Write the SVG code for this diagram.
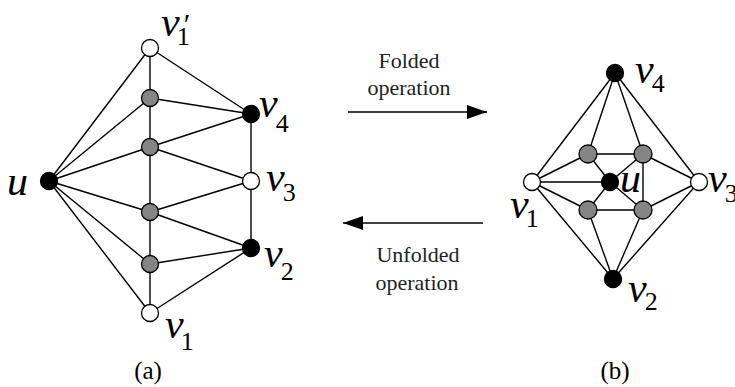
<svg xmlns="http://www.w3.org/2000/svg" width="735" height="387" viewBox="0 0 735 387">
<style>
.e{stroke:#000;stroke-width:1.4;fill:none}
.n{stroke:#000;stroke-width:1.3}
.w{fill:#fff}.b{fill:#000}.g{fill:#858585}
.lb{font-family:"Liberation Serif",serif;font-style:italic;font-size:42px;fill:#000}
.sb{font-style:normal;font-size:26px}
.t{font-family:"Liberation Serif",serif;font-size:22px;fill:#222;text-anchor:middle}
.cap{font-family:"Liberation Serif",serif;font-size:25px;fill:#000;text-anchor:middle}
</style>
<defs>
<marker id="ah" viewBox="0 0 20 14" refX="20" refY="7" markerWidth="20" markerHeight="14" markerUnits="userSpaceOnUse" orient="auto">
<path d="M0,0 L20,7 L0,14 Z" fill="#000"/>
</marker>
</defs>
<g id="connectors">
<path class="e" d="M150,48 V313"/>
<path class="e" d="M49,181 L150,48 M49,181 L150,98 M49,181 L150,147 M49,181 L150,212 M49,181 L150,264 M49,181 L150,313"/>
<path class="e" d="M150,48 L251,114 M150,98 L251,114 M150,147 L251,114 M150,147 L251,181 M150,212 L251,181 M150,212 L251,248 M150,264 L251,248 M150,313 L251,248"/>
<path class="e" d="M251,114 V248"/>
<path class="e" d="M615,73 L532,182 M615,73 L699,182 M615,73 L588,154 M615,73 L643,154"/>
<path class="e" d="M613,279 L532,182 M613,279 L699,182 M613,279 L588,210 M613,279 L643,210"/>
<path class="e" d="M532,182 L588,154 M532,182 L610,182 M532,182 L588,210 M699,182 L643,154 M699,182 L643,210"/>
<path class="e" d="M588,154 L643,154 M588,210 L643,210 M643,154 L643,210"/>
<path class="e" d="M610,182 L588,154 M610,182 L643,154 M610,182 L588,210 M610,182 L643,210"/>
<path class="e" d="M348,112 L487,112" stroke-width="2" marker-end="url(#ah)"/>
<path class="e" d="M483,223 L343,223" stroke-width="2" marker-end="url(#ah)"/>
</g>
<g id="a-v1p"><circle class="n w" cx="150" cy="48" r="8.5"/></g>
<g id="a-g1"><circle class="n g" cx="150" cy="98" r="8.5"/></g>
<g id="a-g2"><circle class="n g" cx="150" cy="147" r="8.5"/></g>
<g id="a-g3"><circle class="n g" cx="150" cy="212" r="8.5"/></g>
<g id="a-g4"><circle class="n g" cx="150" cy="264" r="8.5"/></g>
<g id="a-v1"><circle class="n w" cx="150" cy="313" r="8.5"/></g>
<g id="a-u"><circle class="n b" cx="49" cy="181" r="8.5"/></g>
<g id="a-v4"><circle class="n b" cx="251" cy="114" r="8.5"/></g>
<g id="a-v3"><circle class="n w" cx="251" cy="181" r="8.5"/></g>
<g id="a-v2"><circle class="n b" cx="251" cy="248" r="8.5"/></g>
<g id="b-v4"><circle class="n b" cx="615" cy="73" r="8.5"/></g>
<g id="b-v1"><circle class="n w" cx="532" cy="182" r="8.5"/></g>
<g id="b-v3"><circle class="n w" cx="699" cy="182" r="8.5"/></g>
<g id="b-v2"><circle class="n b" cx="613" cy="279" r="8.5"/></g>
<g id="b-gtl"><circle class="n g" cx="588" cy="154" r="9"/></g>
<g id="b-gtr"><circle class="n g" cx="643" cy="154" r="9"/></g>
<g id="b-gbl"><circle class="n g" cx="588" cy="210" r="9"/></g>
<g id="b-gbr"><circle class="n g" cx="643" cy="210" r="9"/></g>
<g id="b-u"><circle class="n b" cx="610" cy="182" r="8.5"/></g>
<g id="labels">
<text class="lb" x="161" y="36">v<tspan class="sb" dx="-3" dy="9">1</tspan><tspan font-style="normal" font-size="30" dx="-6" dy="-11">′</tspan></text>
<text class="lb" x="7" y="195">u</text>
<text class="lb" x="259" y="117">v<tspan class="sb" dx="-2" dy="15">4</tspan></text>
<text class="lb" x="266" y="191">v<tspan class="sb" dx="-2" dy="10">3</tspan></text>
<text class="lb" x="264" y="267">v<tspan class="sb" dx="-2" dy="13">2</tspan></text>
<text class="lb" x="165" y="338">v<tspan class="sb" dx="-3" dy="12">1</tspan></text>
<text class="lb" x="635" y="83">v<tspan class="sb" dx="-2" dy="9">4</tspan></text>
<text class="lb" x="620" y="192">u</text>
<text class="lb" x="708" y="192">v<tspan class="sb" dx="-2" dy="10">3</tspan></text>
<text class="lb" x="510" y="218">v<tspan class="sb" dx="-3" dy="9">1</tspan></text>
<text class="lb" x="628" y="302">v<tspan class="sb" dx="-2" dy="8">2</tspan></text>
<text class="t" x="409" y="68">Folded</text>
<text class="t" x="409" y="95">operation</text>
<text class="t" x="418" y="262">Unfolded</text>
<text class="t" x="417" y="290">operation</text>
<text class="cap" x="148" y="379">(a)</text>
<text class="cap" x="615" y="379">(b)</text>
</g>
</svg>
